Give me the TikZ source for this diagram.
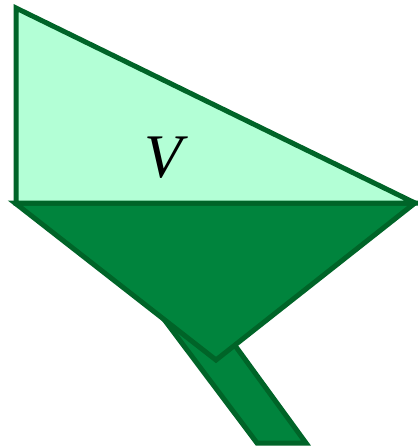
\documentclass[tikz,border=0pt]{standalone}
\usepackage{fontspec}
\setmainfont{Liberation Serif}
\definecolor{lightfill}{HTML}{B3FFD6}
\definecolor{darkfill}{HTML}{00843D}
\definecolor{edge}{HTML}{006428}
\begin{document}
\begin{tikzpicture}[x=1pt,y=-1pt,
  part/.style={draw=edge,line width=5pt,line join=miter}]
\useasboundingbox (0,0) rectangle (418,448);
% stem
\draw[part,fill=darkfill] (163,318) -- (215,318) -- (306,443) -- (257,443) -- cycle;
% funnel
\draw[part,fill=darkfill] (15,203) -- (415,203) -- (216,360) -- cycle;
% top triangle
\draw[part,fill=lightfill] (16,8) -- (16,203) -- (415,203) -- cycle;
\node (v) at (163,158) {\fontsize{62}{62}\selectfont\itshape V};
\end{tikzpicture}
\end{document}
